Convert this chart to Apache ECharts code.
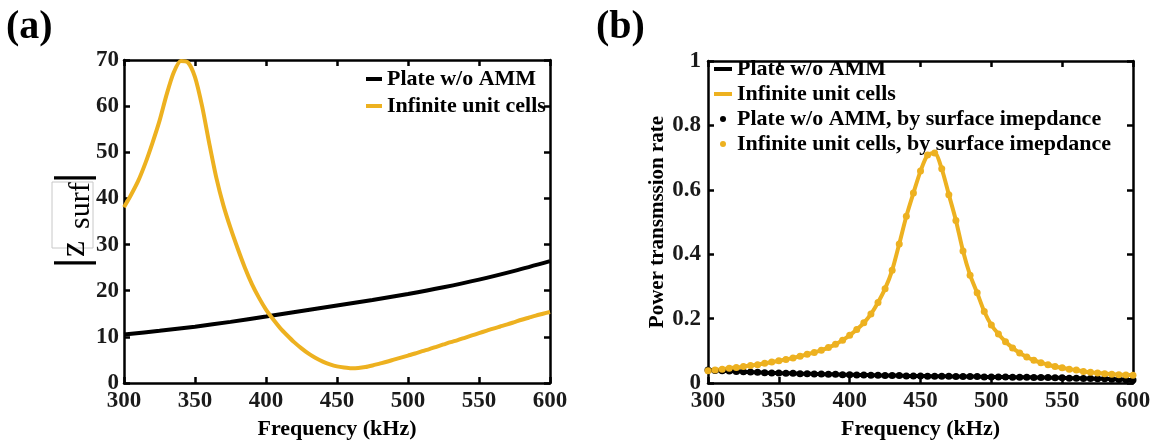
<!DOCTYPE html>
<html>
<head>
<meta charset="utf-8">
<script src="https://cdn.jsdelivr.net/npm/echarts@6/dist/echarts.min.js"></script>
<style>
html,body{margin:0;padding:0;background:#fff;}
#chart{width:1160px;height:445px;}
</style>
</head>
<body>
<div id="chart"></div>
<script>
// ---------- DATA ----------
const xTicks = [300, 350, 400, 450, 500, 550, 600];
const yTicksA = [0, 10, 20, 30, 40, 50, 60, 70];
const yTicksB = [0, 0.2, 0.4, 0.6, 0.8, 1];

// frequency samples (kHz)
const freqFine = [300,305,310,315,320,325,330,335,340,345,350,355,360,365,370,375,380,385,390,395,
                  400,405,410,415,420,425,430,435,440,445,450,455,460,465,470,475,480,485,490,495,
                  500,505,510,515,520,525,530,535,540,545,550,555,560,565,570,575,580,585,590,595,600];
const freqCoarse = [300,325,350,375,400,425,450,475,500,525,550,575,600];

// (a) |z_surf|
const zPlate = [10.5,11.3,12.2,13.25,14.4,15.6,16.8,18.0,19.3,20.75,22.4,24.3,26.4];
const zCells = [38.1,40.8,43.8,47.6,52.0,56.8,62.5,67.3,69.8,69.5,
                66.3,60.0,52.0,44.5,38.5,33.6,29.2,25.1,21.5,18.5,
                15.9,13.8,11.9,10.3,8.8,7.5,6.35,5.4,4.65,4.05,
                3.6,3.35,3.2,3.25,3.45,3.8,4.2,4.6,5.05,5.5,
                5.95,6.4,6.9,7.35,7.85,8.35,8.85,9.3,9.8,10.3,
                10.8,11.3,11.8,12.25,12.7,13.2,13.7,14.15,14.6,15.0,15.4];

// (b) power transmission rate
const tPlate = [0.040,0.039,0.038,0.037,0.036,0.035,0.034,0.033,0.032,0.031,
                0.031,0.030,0.030,0.029,0.029,0.028,0.028,0.027,0.027,0.026,
                0.026,0.025,0.025,0.024,0.024,0.023,0.023,0.023,0.022,0.022,
                0.022,0.021,0.021,0.021,0.021,0.020,0.020,0.020,0.020,0.019,
                0.019,0.019,0.019,0.018,0.018,0.018,0.017,0.017,0.017,0.016,
                0.016,0.015,0.015,0.014,0.014,0.013,0.013,0.012,0.011,0.010,0.009];
const tCells = [0.038,0.040,0.043,0.046,0.048,0.051,0.054,0.057,0.061,0.065,
                0.069,0.073,0.078,0.083,0.089,0.095,0.102,0.110,0.120,0.133,
                0.148,0.166,0.187,0.214,0.250,0.293,0.350,0.432,0.518,0.590,
                0.658,0.708,0.714,0.665,0.585,0.505,0.410,0.335,0.280,0.222,
                0.180,0.152,0.128,0.109,0.093,0.081,0.071,0.063,0.057,0.051,
                0.047,0.043,0.040,0.036,0.033,0.031,0.029,0.027,0.026,0.025,0.024];

const namePlate = 'Plate w/o AMM';
const nameCells = 'Infinite unit cells';
const namePlateDots = 'Plate w/o AMM, by surface imepdance';
const nameCellsDots = 'Infinite unit cells, by surface imepdance';

// ---------- STYLE ----------
const BLACK = '#000000';
const ORANGE = '#EDB120';
const FONT = "'Liberation Serif', 'Times New Roman', serif";
const pairs = (xs, ys) => xs.map((x, i) => [x, ys[i]]);

function axisCommon(extra) {
  return Object.assign({
    type: 'value',
    axisLine: { show: true, onZero: false, lineStyle: { color: '#000', width: 2.5 } },
    axisTick: { show: true, inside: true, length: 6, lineStyle: { color: '#000', width: 2.5 } },
    splitLine: { show: false }
  }, extra);
}
function xAx(grid, pos, showLabel) {
  return axisCommon({
    gridIndex: grid, position: pos,
    min: xTicks[0], max: xTicks[xTicks.length - 1], interval: xTicks[1] - xTicks[0],
    axisLabel: { show: showLabel, color: '#1a1a1a', fontFamily: FONT, fontWeight: 'bold', fontSize: 23, margin: 7 },
    name: showLabel ? 'Frequency (kHz)' : '',
    nameLocation: 'middle', nameGap: 35,
    nameTextStyle: { color: '#000', fontFamily: FONT, fontWeight: 'bold', fontSize: 22 }
  });
}
function yAx(grid, pos, showLabel, ticks, margin, name) {
  return axisCommon({
    gridIndex: grid, position: pos,
    min: ticks[0], max: ticks[ticks.length - 1], interval: ticks[1] - ticks[0],
    axisLabel: { show: showLabel, color: '#1a1a1a', fontFamily: FONT, fontWeight: 'bold', fontSize: 23, margin: margin },
    name: name || '',
    nameLocation: 'middle', nameGap: 37, nameRotate: 90,
    nameTextStyle: { color: '#000', fontFamily: FONT, fontWeight: 'bold', fontSize: 21 }
  });
}

const legendText = { color: '#000', fontFamily: FONT, fontWeight: 'bold', fontSize: 22 };

const option = {
  animation: false,
  backgroundColor: '#ffffff',
  grid: [
    { left: 124, top: 60, width: 426, height: 325 },
    { left: 708, top: 61, width: 425, height: 325 }
  ],
  xAxis: [
    xAx(0, 'bottom', true), xAx(0, 'top', false),
    xAx(1, 'bottom', true), xAx(1, 'top', false)
  ],
  yAxis: [
    yAx(0, 'left', true, yTicksA, 5), yAx(0, 'right', false, yTicksA, 5),
    yAx(1, 'left', true, yTicksB, 7, 'Power transmssion rate'), yAx(1, 'right', false, yTicksB, 7)
  ],
  legend: [
    { left: 366, top: 68, orient: 'vertical', padding: 0, itemGap: 5, itemWidth: 16, itemHeight: 4,
      textStyle: legendText, selectedMode: false,
      data: [{ name: namePlate, icon: 'rect', itemStyle: { color: BLACK } },
             { name: nameCells, icon: 'rect', itemStyle: { color: ORANGE } }] },
    { left: 714, top: 58, orient: 'vertical', padding: 0, itemGap: 3, itemWidth: 18, itemHeight: 4,
      textStyle: legendText, selectedMode: false,
      data: [{ name: namePlate, icon: 'rect', itemStyle: { color: BLACK } },
             { name: nameCells, icon: 'rect', itemStyle: { color: ORANGE } }] },
    { left: 720, top: 108, orient: 'vertical', padding: 0, itemGap: 3, itemWidth: 18, itemHeight: 6,
      textStyle: legendText, selectedMode: false,
      data: [{ name: namePlateDots, icon: 'circle', itemStyle: { color: BLACK } },
             { name: nameCellsDots, icon: 'circle', itemStyle: { color: ORANGE } }] }
  ],
  series: [
    { name: namePlate, type: 'line', xAxisIndex: 0, yAxisIndex: 0, data: pairs(freqCoarse, zPlate),
      smooth: 0.3, showSymbol: false, lineStyle: { color: BLACK, width: 4 }, itemStyle: { color: BLACK }, z: 3 },
    { name: nameCells, type: 'line', xAxisIndex: 0, yAxisIndex: 0, data: pairs(freqFine, zCells),
      smooth: 0.25, showSymbol: false, lineStyle: { color: ORANGE, width: 4 }, itemStyle: { color: ORANGE }, z: 3 },
    { name: namePlate, type: 'line', xAxisIndex: 2, yAxisIndex: 2, data: pairs(freqFine, tPlate),
      smooth: 0.25, showSymbol: false, lineStyle: { color: BLACK, width: 4 }, itemStyle: { color: BLACK }, z: 3 },
    { name: nameCells, type: 'line', xAxisIndex: 2, yAxisIndex: 2, data: pairs(freqFine, tCells),
      smooth: 0.25, showSymbol: false, lineStyle: { color: ORANGE, width: 4 }, itemStyle: { color: ORANGE }, z: 3 },
    { name: namePlateDots, type: 'scatter', xAxisIndex: 2, yAxisIndex: 2, data: pairs(freqFine, tPlate),
      symbol: 'circle', symbolSize: 7, itemStyle: { color: BLACK, opacity: 1 }, z: 4 },
    { name: nameCellsDots, type: 'scatter', xAxisIndex: 2, yAxisIndex: 2, data: pairs(freqFine, tCells),
      symbol: 'circle', symbolSize: 7, itemStyle: { color: ORANGE, opacity: 1 }, z: 4 }
  ],
  graphic: [
    { type: 'text', left: 6, top: 8, style: { text: '(a)', fill: '#000', font: "bold 40px " + FONT } },
    { type: 'text', left: 596, top: 8, style: { text: '(b)', fill: '#000', font: "bold 40px " + FONT } },
    { type: 'rect', shape: { x: 52, y: 182, width: 41, height: 66 },
      style: { fill: 'none', stroke: '#c8c8c8', lineWidth: 1 } },
    { type: 'group', x: 74, y: 266, rotation: Math.PI / 2,
      children: [
        { type: 'text', x: -2, y: 0, style: { text: '|', fill: '#000', font: "bold 46px " + FONT, textAlign: 'left', textVerticalAlign: 'middle' } },
        { type: 'text', x: 9, y: 1, style: { text: 'z', fill: '#000', font: "36px " + FONT, textAlign: 'left', textVerticalAlign: 'middle' } },
        { type: 'text', x: 37, y: 7, style: { text: 'surf', fill: '#000', font: "30px " + FONT, textAlign: 'left', textVerticalAlign: 'middle' } },
        { type: 'text', x: 83, y: 0, style: { text: '|', fill: '#000', font: "bold 46px " + FONT, textAlign: 'left', textVerticalAlign: 'middle' } }
      ] }
  ]
};

const chart = echarts.init(document.getElementById('chart'), null, { renderer: 'canvas' });
chart.setOption(option);
</script>
</body>
</html>
